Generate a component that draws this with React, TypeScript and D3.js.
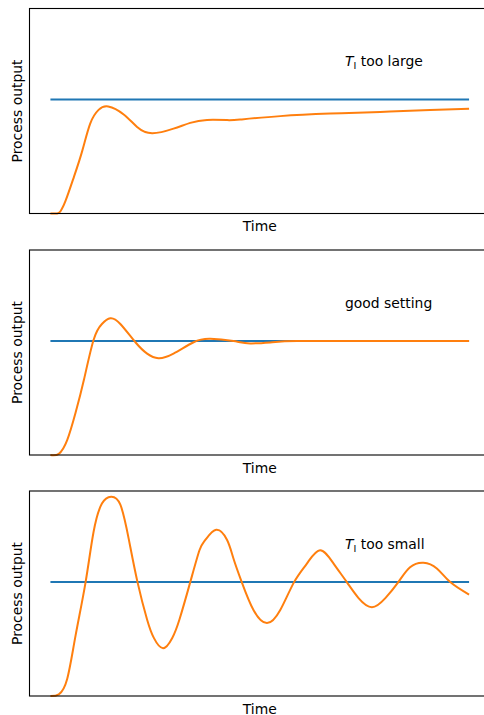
import React from 'react';
import * as d3 from 'd3';

// time axis in arbitrary units, 0..100
const setpointT = [0, 100];
const setpointV = [1, 1];

const largeT = [0, 1.6, 2.4, 3.6, 5.6, 7.6, 9.5, 11.5, 13.8, 17.5, 20.7, 24.3, 29.4, 33.4, 37.4, 42.2, 45.3, 54.9, 66.8, 78.8, 90.7, 100];
const largeV = [0, 0, 0.02, 0.11, 0.32, 0.55, 0.79, 0.91, 0.94, 0.87, 0.76, 0.705, 0.745, 0.796, 0.822, 0.82, 0.825, 0.855, 0.877, 0.892, 0.908, 0.92];

const goodT = [0, 2, 4, 6, 8, 10.3, 12.3, 14.3, 16.7, 20.3, 23.1, 25.8, 29.4, 34.2, 38.2, 43.7, 47.7, 53, 58.9, 70, 85, 100];
const goodV = [0, 0.01, 0.13, 0.37, 0.66, 1.01, 1.15, 1.2, 1.15, 0.99, 0.89, 0.85, 0.89, 0.99, 1.02, 1.0, 0.98, 0.99, 1.0, 1.0, 1.0, 1.0];

const smallT = [0, 2, 4, 6, 8.4, 10.3, 12.3, 14.5, 16.7, 18.7, 20.8, 23.1, 24.7, 26.9, 29.1, 30.8, 33.4, 35.6, 37, 39.6, 42.2, 43.7, 45.7, 48.5, 51.7, 54.9, 58.2, 61.3, 64.4, 67.6, 70.8, 73.6, 76.8, 80, 83.1, 85.9, 89.1, 92.3, 95.5, 100];
const smallV = [0, 0.015, 0.15, 0.53, 1.0, 1.44, 1.69, 1.75, 1.68, 1.38, 1.0, 0.67, 0.51, 0.42, 0.51, 0.67, 1.0, 1.28, 1.37, 1.46, 1.37, 1.21, 1.0, 0.755, 0.64, 0.755, 1.0, 1.165, 1.28, 1.165, 1.0, 0.86, 0.78, 0.86, 1.0, 1.13, 1.17, 1.12, 1.0, 0.89];

const panels = [
  { t: largeT, v: largeV, label: 'too large', sub: true },
  { t: goodT, v: goodV, label: 'good setting', sub: false },
  { t: smallT, v: smallV, label: 'too small', sub: true },
];

const W = 484;
const H = 715;
const axLeft = 29.5;
const axRight = 490;
const axTops = [8.5, 250, 491];
const axH = 205;
const font = 'DejaVu Sans, sans-serif';
const fs = 13.9;

const zip = (t: number[], v: number[]) => t.map((d, i) => [d, v[i]] as [number, number]);

export default function App() {
  const x = d3.scaleLinear().domain([-5, 105]).range([axLeft, axRight]);

  return (
    <svg width={W} height={H} style={{ position: 'absolute', left: 0, top: 0, display: 'block' }}>
      <rect x={0} y={0} width={W} height={H} fill="#fff" />
      {panels.map((p, i) => {
        const top = axTops[i];
        const bottom = top + axH;
        const y = d3.scaleLinear().domain([0, 1.8]).range([bottom, top]);
        const line = d3
          .line<[number, number]>()
          .x(d => x(d[0]))
          .y(d => y(d[1]))
          .curve(d3.curveNatural);
        return (
          <g key={i}>
            <path d={line(zip(setpointT, setpointV)) || ''} fill="none" stroke="#1f77b4" strokeWidth={2} />
            <path d={line(zip(p.t, p.v)) || ''} fill="none" stroke="#ff7f0e" strokeWidth={2} />
            <rect x={axLeft} y={top} width={axRight - axLeft} height={axH} fill="none" stroke="#000" strokeWidth={1.1} />
            <text x={345} y={top + 57.5} fontFamily={font} fontSize={fs} fill="#000">
              {p.sub ? (
                <>
                  <tspan fontStyle="italic">T</tspan>
                  <tspan fontSize={9.5} dy={3}>I</tspan>
                  <tspan dy={-3}>{' ' + p.label}</tspan>
                </>
              ) : (
                p.label
              )}
            </text>
            <text
              x={(axLeft + axRight) / 2}
              y={bottom + 17.5}
              textAnchor="middle"
              fontFamily={font}
              fontSize={fs}
              fill="#000"
            >
              Time
            </text>
            <text
              transform={`translate(${22},${top + axH / 2}) rotate(-90)`}
              textAnchor="middle"
              fontFamily={font}
              fontSize={fs}
              fill="#000"
            >
              Process output
            </text>
          </g>
        );
      })}
    </svg>
  );
}
